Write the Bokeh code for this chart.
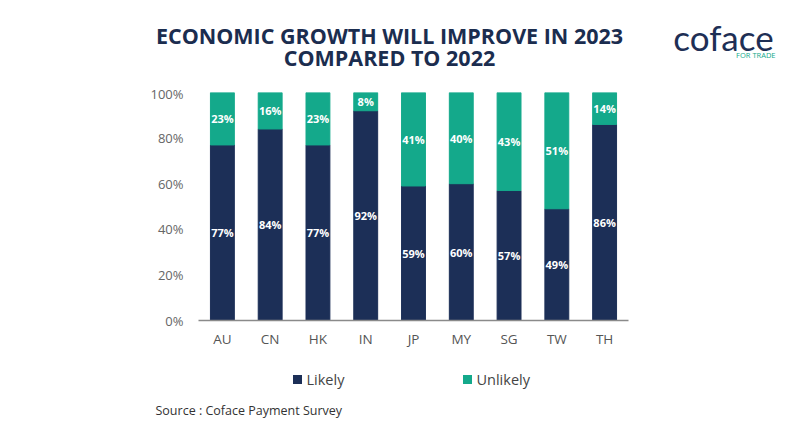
from bokeh.plotting import figure
from bokeh.models import ColumnDataSource, FixedTicker, NumeralTickFormatter, LabelSet
from bokeh.layouts import column, row
from bokeh.core.properties import value
from bokeh.embed import file_html
from bokeh.resources import INLINE

countries = ["AU", "CN", "HK", "IN", "JP", "MY", "SG", "TW", "TH"]
likely = [77, 84, 77, 92, 59, 60, 57, 49, 86]
unlikely = [23, 16, 23, 8, 41, 40, 43, 51, 14]
series_names = ["Likely", "Unlikely"]
y_ticks = [0, 0.2, 0.4, 0.6, 0.8, 1.0]
title_lines = ["ECONOMIC GROWTH WILL IMPROVE IN 2023", "COMPARED TO 2022"]
source_note = "Source : Coface Payment Survey"

NAVY = "#1c2f57"
TEAL = "#14a98b"
FONT = "Open Sans"
W = 790

# ---------- header ----------
HH = 84
head = figure(width=W, height=HH, x_range=(0, W), y_range=(HH, 0),
              x_axis_type=None, y_axis_type=None, output_backend="svg",
              toolbar_location=None, min_border=0)
head.outline_line_color = None
head.grid.visible = False
head.text(x=[389, 389], y=[35, 57], text=title_lines, text_align="center",
          text_baseline="middle", text_font=value(FONT), text_font_style="bold",
          text_font_size="21.5px", text_color="#1b2d4f")
head.text(x=[723], y=[36], text=["coface"], text_align="center", text_baseline="middle",
          text_font=value("Lato"), text_font_size="35px", text_color="#1e2f55")
head.text(x=[775], y=[54], text=["FOR TRADE"], text_align="right",
          text_baseline="middle", text_font=value(FONT), text_font_size="7.5px",
          text_color=TEAL)

# ---------- main chart ----------
MH = 276
FL, FR, FT, FB = 198, 628, 8, 236  # frame edges within main figure

lik = [v / 100 for v in likely]
unl = [v / 100 for v in unlikely]
src = ColumnDataSource(dict(
    cat=countries, likely=lik, unlikely=unl,
    lik_mid=[v / 2 for v in lik],
    unl_mid=[a + b / 2 for a, b in zip(lik, unl)],
    lik_txt=[f"{v}%" for v in likely],
    unl_txt=[f"{v}%" for v in unlikely],
))

p = figure(x_range=countries, y_range=(0, 1), width=W, height=MH,
           output_backend="svg", toolbar_location=None,
           min_border_left=FL, min_border_right=W - FR,
           min_border_top=FT, min_border_bottom=MH - FB)
p.outline_line_color = None
p.xgrid.grid_line_color = None
p.ygrid.grid_line_color = None
p.x_range.range_padding = 0

p.vbar_stack(["likely", "unlikely"], x="cat", width=0.5, color=[NAVY, TEAL], source=src)

for ycol, tcol in (("lik_mid", "lik_txt"), ("unl_mid", "unl_txt")):
    p.add_layout(LabelSet(x="cat", y=ycol, text=tcol, source=src, text_align="center",
                          text_baseline="middle", text_color="white",
                          text_font=value(FONT), text_font_style="bold",
                          text_font_size="11px"))

p.yaxis.ticker = FixedTicker(ticks=y_ticks)
p.yaxis.formatter = NumeralTickFormatter(format="0%")
p.yaxis.axis_line_color = None
p.yaxis.major_tick_line_color = None
p.yaxis.major_tick_out = 0
p.yaxis.minor_tick_line_color = None
p.yaxis.major_label_text_font = FONT
p.yaxis.major_label_text_font_size = "13px"
p.yaxis.major_label_text_color = "#666666"
p.yaxis.major_label_standoff = 15

p.xaxis.axis_line_color = "#8a8a8a"
p.xaxis.axis_line_width = 1.5
p.xaxis.major_tick_line_color = None
p.xaxis.major_tick_out = 0
p.xaxis.minor_tick_line_color = None
p.xaxis.major_label_text_font = FONT
p.xaxis.major_label_text_font_size = "13.5px"
p.xaxis.major_label_text_color = "#555555"
p.xaxis.major_label_standoff = 9

# ---------- footer ----------
FH = 80
foot = figure(width=W, height=FH, x_range=(0, W), y_range=(FH, 0),
              x_axis_type=None, y_axis_type=None, output_backend="svg",
              toolbar_location=None, min_border=0)
foot.outline_line_color = None
foot.grid.visible = False
leg_x = [297, 467]
foot.rect(x=leg_x, y=[19, 19], width=9, height=9, fill_color=[NAVY, TEAL], line_color=None)
foot.text(x=[x + 9 for x in leg_x], y=[19, 19], text=series_names, text_align="left",
          text_baseline="middle", text_font=value(FONT), text_font_size="14.5px",
          text_color="#444444")
foot.text(x=[155], y=[50], text=[source_note], text_align="left", text_baseline="middle",
          text_font=value(FONT), text_font_size="12.5px", text_color="#333333")

layout = column(row(head), row(p), row(foot), spacing=0)
open("out.html", "w").write(file_html(layout, INLINE))
